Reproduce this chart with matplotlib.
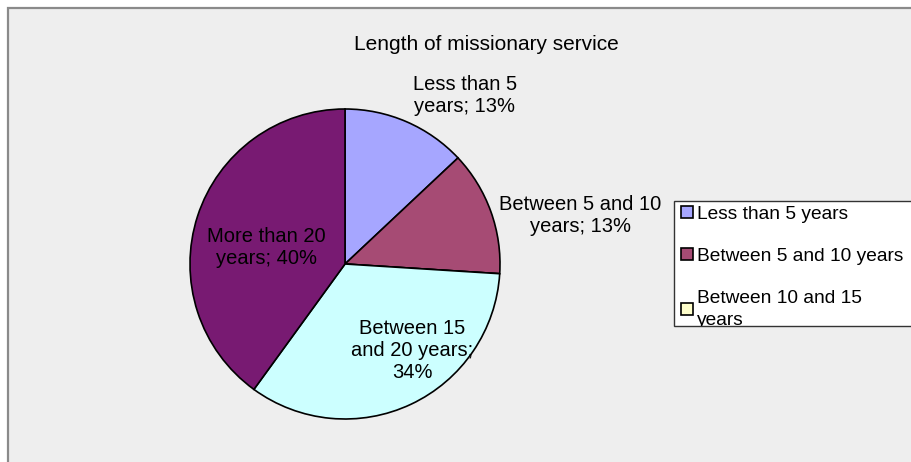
import matplotlib
matplotlib.use("Agg")
import matplotlib.pyplot as plt
from matplotlib.patches import Rectangle
from matplotlib.transforms import Bbox, TransformedBbox

plt.rcParams['font.family'] = ['Liberation Sans', 'DejaVu Sans']

categories = ["Less than 5 years", "Between 5 and 10 years", "Between 10 and 15 years",
              "Between 15 and 20 years", "More than 20 years"]
shares = [13, 13, 0, 34, 40]
colors = ["#a6a6ff", "#a64b74", "#ffffcc", "#ccffff", "#781a72"]
# wrapped names as they appear next to the slices
pie_names = ["Less than 5\nyears", "Between 5 and 10\nyears", None,
             "Between 15\nand 20 years", "More than 20\nyears"]
legend_names = ["Less than 5 years", "Between 5 and 10 years", "Between 10 and 15\nyears"]

W, H = 911, 462
fig = plt.figure(figsize=(W / 100, H / 100), dpi=100)
fig.patch.set_facecolor("white")
ax = fig.add_axes([0, 0, 1, 1])

# chart area with grey border on top and left
ax.add_patch(Rectangle((8, -20), W + 40, H - 8 + 20, facecolor="#eeeeee",
                       edgecolor="#8a8a8a", linewidth=1.6, zorder=0))

ax.text(486, H - 45, "Length of missionary service", ha="center", va="center", fontsize=15)

wedges, _ = ax.pie(shares, colors=colors, startangle=90, counterclock=False,
                   center=(345, H - 264), radius=155, frame=True,
                   wedgeprops=dict(edgecolor="black", linewidth=1.2))
ax.set_xlim(0, W)
ax.set_ylim(0, H)
ax.axis("off")

# slice labels
label_pos = [(465, 96), (580, 216), None, (412, 350), (266, 248)]
for name, v, pos in zip(pie_names, shares, label_pos):
    if pos is None:
        continue
    if name.startswith("Between 15"):
        txt = f"{name};\n{v}%"
    else:
        txt = f"{name}; {v}%"
    ax.text(pos[0], H - pos[1], txt, ha="center", va="center", fontsize=14.5,
            linespacing=1.2)

# legend box (right side cut off by the figure edge)
ax.add_patch(Rectangle((674, H - 326), 260, 125, facecolor="white",
                       edgecolor="#333333", linewidth=1.0, zorder=4))
leg = ax.legend(wedges[:3], legend_names, loc="upper left",
                bbox_to_anchor=(681 / W, 1 - 206 / H), frameon=False,
                fontsize=13.8, handlelength=0.6, handleheight=0.6,
                handletextpad=0.25, labelspacing=1.3, borderaxespad=0,
                borderpad=0.0)
leg.set_zorder(5)
clip = TransformedBbox(Bbox([[674, H - 326], [W + 10, H - 201]]), ax.transData)
for t in leg.get_texts():
    t.set_linespacing(1.4)
    t.set_clip_box(clip)
    t.set_clip_on(True)

fig.savefig("out.png", dpi=100)
